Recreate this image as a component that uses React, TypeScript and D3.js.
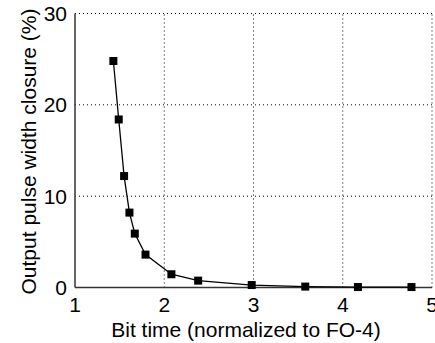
import React from "react";
import * as d3 from "d3";

// Bit time (normalized to FO-4) vs. output pulse width closure (%)
const bitTime = [1.43, 1.49, 1.55, 1.61, 1.67, 1.79, 2.08, 2.38, 2.98, 3.58, 4.17, 4.77];
const closure = [24.8, 18.4, 12.2, 8.2, 5.9, 3.6, 1.45, 0.75, 0.27, 0.1, 0.05, 0.05];
const xTicks = [1, 2, 3, 4, 5];
const yTicks = [0, 10, 20, 30];

const W = 435;
const H = 343;
const left = 75;
const right = 432;
const top = 13.5;
const bottom = 287.5;
const font = "'Liberation Sans', Arial, sans-serif";
const fs = 21;

export default function App() {
  const x = d3.scaleLinear().domain([1, 5]).range([left, right]);
  const y = d3.scaleLinear().domain([0, 30]).range([bottom, top]);
  const pts = bitTime.map((t, i) => [t, closure[i]] as [number, number]);
  const line = d3
    .line<[number, number]>()
    .x((d) => x(d[0]))
    .y((d) => y(d[1]));

  return (
    <svg
      width={W}
      height={H}
      style={{ position: "absolute", left: 0, top: 0, background: "#fff" }}
    >
      {/* dotted grid */}
      {xTicks.slice(1).map((t) => (
        <line
          key={"gx" + t}
          x1={x(t)}
          x2={x(t)}
          y1={bottom}
          y2={top}
          stroke="#000"
          strokeWidth={1}
          strokeDasharray="1,3"
        />
      ))}
      {yTicks.slice(1).map((t) => (
        <line
          key={"gy" + t}
          x1={left}
          x2={right}
          y1={y(t)}
          y2={y(t)}
          stroke="#000"
          strokeWidth={1}
          strokeDasharray="1,3"
        />
      ))}
      {/* axes */}
      <line x1={left} x2={left} y1={top} y2={bottom} stroke="#333" strokeWidth={1.5} />
      <line x1={left} x2={right} y1={bottom} y2={bottom} stroke="#333" strokeWidth={1.5} />
      {/* tick labels */}
      {xTicks.map((t) => (
        <text
          key={"tx" + t}
          x={x(t)}
          y={312}
          textAnchor="middle"
          fontFamily={font}
          fontSize={fs}
          fill="#000"
        >
          {t}
        </text>
      ))}
      {yTicks.map((t) => (
        <text
          key={"ty" + t}
          x={67}
          y={y(t) + 7.5}
          textAnchor="end"
          fontFamily={font}
          fontSize={fs}
          fill="#000"
        >
          {t}
        </text>
      ))}
      {/* axis titles */}
      <text
        x={246}
        y={337}
        textAnchor="middle"
        fontFamily={font}
        fontSize={fs}
        fill="#000"
      >
        Bit time (normalized to FO-4)
      </text>
      <text
        transform={`translate(36, 151.5) rotate(-90)`}
        textAnchor="middle"
        fontFamily={font}
        fontSize={fs}
        fill="#000"
      >
        Output pulse width closure (%)
      </text>
      {/* series */}
      <path d={line(pts) || ""} fill="none" stroke="#000" strokeWidth={1.3} />
      {pts.map((d, i) => (
        <rect
          key={"m" + i}
          x={x(d[0]) - 4}
          y={y(d[1]) - 4}
          width={8}
          height={8}
          fill="#000"
        />
      ))}
    </svg>
  );
}
